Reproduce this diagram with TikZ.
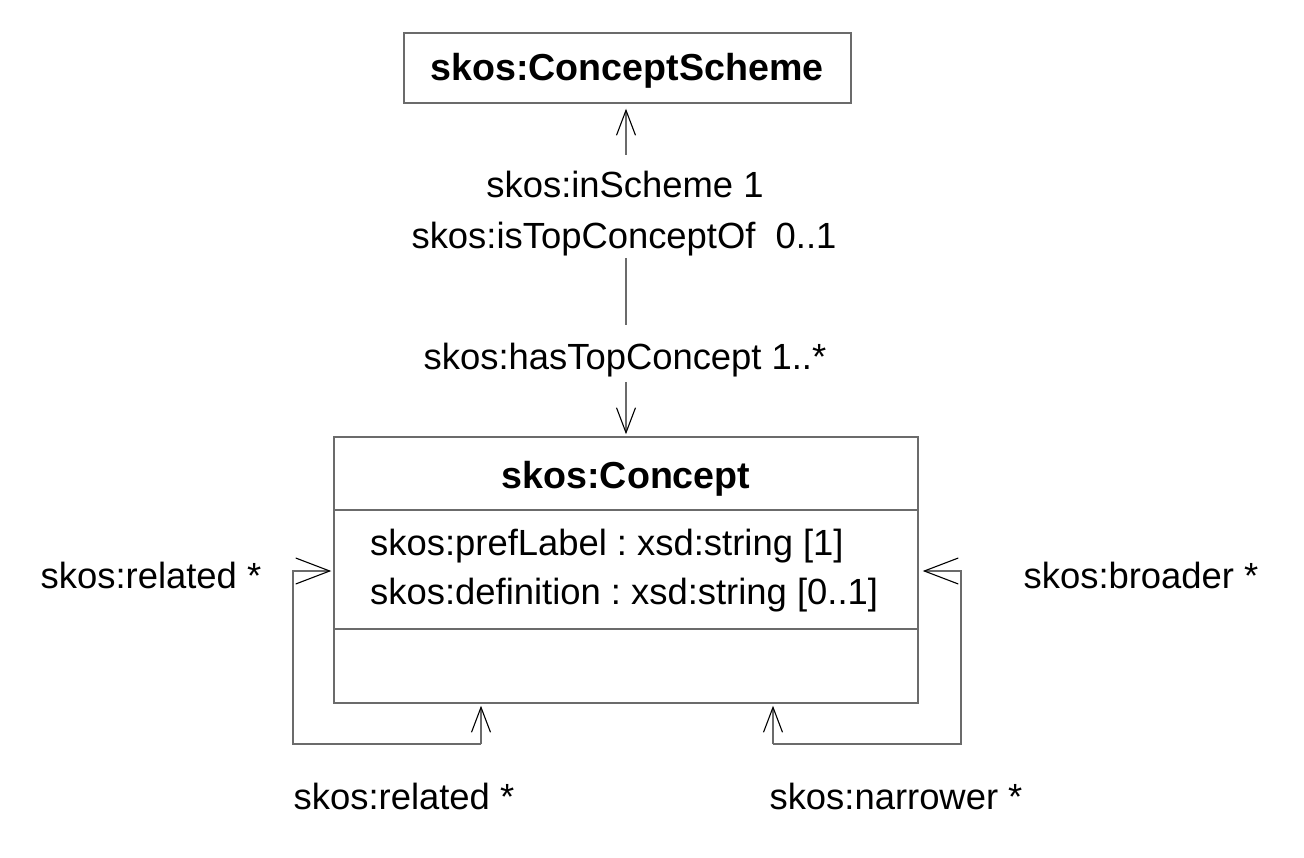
\documentclass[tikz,border=0pt]{standalone}
\usepackage{fontspec}
\setmainfont{Liberation Sans}
\usetikzlibrary{arrows.meta}
\frenchspacing
\begin{document}
\begin{tikzpicture}[x=1pt,y=-1pt,
  ln/.style={draw=black!58,line width=1.5pt},
  lbl/.style={inner sep=0pt,anchor=base,font=\fontsize{36.4}{42}\selectfont},
  ttl/.style={inner sep=0pt,anchor=base,font=\fontsize{37.6}{42}\selectfont\bfseries},
  varr/.style={-{Straight Barb[length=25pt,width=19pt,line width=1.1pt,color=black]}},
  harr/.style={-{Straight Barb[length=34pt,width=26pt,line width=1.1pt,color=black]}},
  box/.style={ln,fill=white,inner sep=0pt}]
\useasboundingbox (0,0) rectangle (1304,858);
% boxes
\node[box,minimum width=447pt,minimum height=70pt] (cs) at (627.5,68) {};
\node[ttl] (cst) at (627,81) {skos:ConceptScheme};
\node[box,minimum width=584pt,minimum height=266pt] (c) at (626,570) {};
\coordinate (d1l) at (334,510); \coordinate (d1r) at (918,510);
\coordinate (d2l) at (334,629); \coordinate (d2r) at (918,629);
\draw[ln] (d1l) -- (d1r);
\draw[ln] (d2l) -- (d2r);
\node[ttl] (ct) at (626,488) {skos:Concept};
\node[lbl,anchor=base west] (a1) at (370,555) {skos:prefLabel : xsd:string [1]};
\node[lbl,anchor=base west] (a2) at (370,604) {skos:definition : xsd:string [0..1]};
% top association
\node[lbl] (l1) at (625,198) {skos:inScheme 1};
\node[lbl] (l2) at (624,249) {skos:isTopConceptOf\ \ 0..1};
\node[lbl] (l3) at (625,370) {skos:hasTopConcept 1..*};
\coordinate (t1) at (626,155);
\coordinate (t2) at (626,258);
\coordinate (t3) at (626,325);
\coordinate (t4) at (626,382);
\draw[ln,varr,shorten >=5pt] (t1) -- (cs.south -| t1);
\draw[ln] (t2) -- (t3);
\draw[ln,varr,shorten >=2pt] (t4) -- (c.north -| t4);
% related loop
\coordinate (r1) at (481,744);
\coordinate (r2) at (293,744);
\coordinate (r3) at (293,571);
\draw[ln,varr,shorten >=2pt] (r1) -- (c.south -| r1);
\draw[ln,harr,shorten >=2pt] (r1) -- (r2) -- (r3) -- (c.west |- r3);
% broader/narrower loop
\coordinate (b1) at (773,744);
\coordinate (b2) at (961,744);
\coordinate (b3) at (961,571);
\draw[ln,varr,shorten >=2pt] (b1) -- (c.south -| b1);
\draw[ln,harr,shorten >=4pt] (b1) -- (b2) -- (b3) -- (c.east |- b3);
% loop labels
\node[lbl] (rl) at (151,588) {skos:related *};
\node[lbl] (bl) at (1141,588) {skos:broader *};
\node[lbl] (rb) at (404,809) {skos:related *};
\node[lbl] (nb) at (896,809) {skos:narrower *};
\end{tikzpicture}
\end{document}
